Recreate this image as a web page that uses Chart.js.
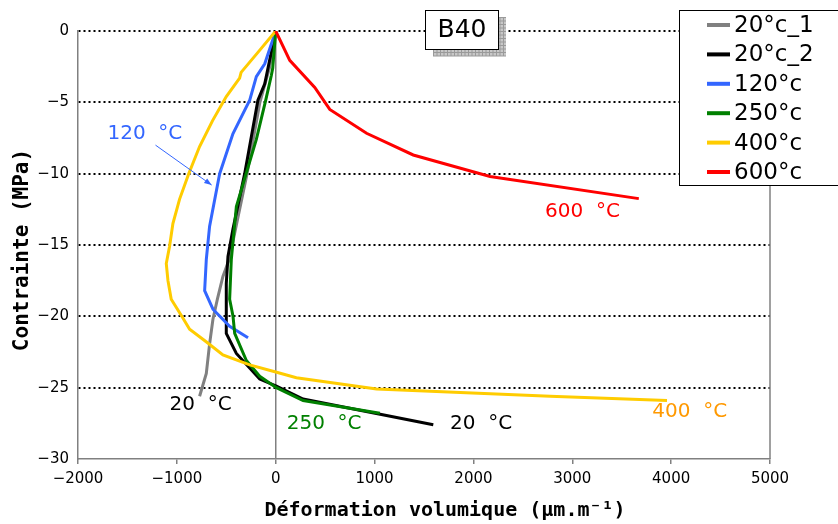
<!DOCTYPE html>
<html>
<head>
<meta charset="utf-8">
<script src="https://cdn.jsdelivr.net/npm/chart.js@4.4.1/dist/chart.umd.min.js"></script>
<style>
    html, body { margin: 0; padding: 0; background: #fff; }
    #wrap { width: 838px; height: 524px; }
</style>
</head>
<body>
<div id="wrap"><canvas id="b40Chart" width="838" height="524"></canvas></div>
<script>
// Series: [deformation (µm/m), stress (MPa)]
const curve20_1 = [[0, 0], [-60, -2.5], [-160, -5], [-290, -10], [-410, -14], [-470, -16], [-534, -17.2], [-590, -18.8], [-635, -20.2], [-670, -22], [-702, -24], [-770, -25.6]];
const curve20_2 = [[0, 0], [-111, -3.7], [-180, -4.85], [-314, -10], [-433, -13.9], [-483, -15.8], [-500, -17.7], [-500, -20], [-500, -21.2], [-398, -22.6], [-162, -24.4], [7, -24.9], [277, -25.8], [1594, -27.6]];
const curve120 = [[0, 0], [-111, -2.3], [-196, -3.2], [-263, -4.85], [-433, -7.2], [-567, -10], [-669, -13.7], [-702, -16], [-719, -18.2], [-635, -19.5], [-466, -20.7], [-280, -21.5]];
const curve250 = [[0, 0], [-30, -2.6], [-44, -3.1], [-101, -4.85], [-196, -7.6], [-398, -12.3], [-449, -16], [-466, -18.8], [-432, -20], [-415, -21.2], [-297, -23.1], [-162, -24.2], [7, -25.0], [277, -25.9], [1054, -26.8]];
const curve400 = [[0, 0], [-180, -1.5], [-350, -2.9], [-365, -3.3], [-500, -4.6], [-640, -6.3], [-770, -8.1], [-880, -10], [-973, -11.8], [-1040, -13.5], [-1074, -15.1], [-1107, -16.3], [-1090, -17.5], [-1057, -18.8], [-950, -20.0], [-871, -20.9], [-700, -21.8], [-534, -22.7], [-263, -23.4], [0, -23.9], [209, -24.3], [1020, -25.1], [2776, -25.6], [3958, -25.9]];
const curve600 = [[0, 0], [142, -2.06], [395, -3.96], [547, -5.5], [919, -7.17], [1391, -8.69], [2168, -10.2], [3673, -11.75]];

const seriesNames = ['20°c_1', '20°c_2', '120°c', '250°c', '400°c', '600°c'];
const seriesCurves = [curve20_1, curve20_2, curve120, curve250, curve400, curve600];
const seriesColors = ['#808080', '#000000', '#3366FF', '#008000', '#FFCC00', '#FF0000'];

const xTicks = [-2000, -1000, 0, 1000, 2000, 3000, 4000, 5000];
const yTicks = [0, -5, -10, -15, -20, -25, -30];

const xTitle = 'Déformation volumique (µm.m⁻¹)';
const yTitle = 'Contrainte (MPa)';

// curve labels, placed in data units (left edge, vertical middle)
const noteTexts = ['120  °C', '600  °C', '20  °C', '250  °C', '20  °C', '400  °C'];
const noteX = [-1702, 2725, -1074, 111, 1763, 3810];
const noteY = [-7.2, -12.7, -26.2, -27.5, -27.5, -26.7];
const noteColors = ['#3366FF', '#FF0000', '#000000', '#008000', '#000000', '#FF9900'];
const arrowFrom = [-1216, -8.0];
const arrowTo = [-648, -10.8];

const fmt = v => String(v).replace('-', '\u2212');

const extras = {
    id: 'extras',
    afterDatasetsDraw(chart) {
        const ctx = chart.ctx;
        const xs = chart.scales.x, ys = chart.scales.y;
        const area = chart.chartArea;
        ctx.save();

        // right frame line
        ctx.strokeStyle = '#808080';
        ctx.lineWidth = 1.5;
        ctx.beginPath();
        ctx.moveTo(area.right, area.top);
        ctx.lineTo(area.right, area.bottom);
        ctx.stroke();

        // axis titles
        ctx.fillStyle = '#000';
        ctx.font = 'bold 20px "DejaVu Sans Mono"';
        ctx.textAlign = 'center';
        ctx.textBaseline = 'middle';
        ctx.fillText(xTitle, 445, 511);
        ctx.save();
        ctx.translate(23, 250);
        ctx.rotate(-Math.PI / 2);
        ctx.font = 'bold 21px "DejaVu Sans Mono"';
        ctx.fillText(yTitle, 0, 0);
        ctx.restore();

        // curve labels
        ctx.font = '20px "DejaVu Sans"';
        ctx.textAlign = 'left';
        noteTexts.forEach((t, i) => {
            ctx.fillStyle = noteColors[i];
            ctx.fillText(t, xs.getPixelForValue(noteX[i]), ys.getPixelForValue(noteY[i]));
        });

        // arrow to the 120 °C curve
        const ax1 = xs.getPixelForValue(arrowFrom[0]), ay1 = ys.getPixelForValue(arrowFrom[1]);
        const ax2 = xs.getPixelForValue(arrowTo[0]), ay2 = ys.getPixelForValue(arrowTo[1]);
        const ang = Math.atan2(ay2 - ay1, ax2 - ax1);
        ctx.strokeStyle = '#3366FF';
        ctx.fillStyle = '#3366FF';
        ctx.lineWidth = 1;
        ctx.beginPath();
        ctx.moveTo(ax1, ay1);
        ctx.lineTo(ax2, ay2);
        ctx.stroke();
        ctx.beginPath();
        ctx.moveTo(ax2, ay2);
        ctx.lineTo(ax2 - 8 * Math.cos(ang - 0.35), ay2 - 8 * Math.sin(ang - 0.35));
        ctx.lineTo(ax2 - 8 * Math.cos(ang + 0.35), ay2 - 8 * Math.sin(ang + 0.35));
        ctx.closePath();
        ctx.fill();

        // B40 box with hatched shadow
        const bx = 425, by = 10, bw = 73, bh = 39;
        ctx.fillStyle = '#c8c8c8';
        ctx.fillRect(bx + 8, by + 7, bw, bh);
        ctx.strokeStyle = '#9a9a9a';
        ctx.lineWidth = 1;
        ctx.beginPath();
        for (let gx = bx + 8; gx <= bx + 8 + bw; gx += 3.5) {
            ctx.moveTo(gx + 0.5, by + 7);
            ctx.lineTo(gx + 0.5, by + 7 + bh);
        }
        for (let gy = by + 7; gy <= by + 7 + bh; gy += 3.5) {
            ctx.moveTo(bx + 8, gy + 0.5);
            ctx.lineTo(bx + 8 + bw, gy + 0.5);
        }
        ctx.stroke();
        ctx.fillStyle = '#fff';
        ctx.fillRect(bx, by, bw, bh);
        ctx.strokeStyle = '#000';
        ctx.strokeRect(bx + 0.5, by + 0.5, bw, bh);
        ctx.fillStyle = '#000';
        ctx.font = '25px "DejaVu Sans"';
        ctx.textAlign = 'center';
        ctx.fillText('B40', bx + bw / 2 + 0.5, by + bh / 2 + 1);

        // legend
        const lx = 679, ly = 10, lh = 175;
        ctx.fillStyle = '#fff';
        ctx.fillRect(lx, ly, 838 - lx + 5, lh);
        ctx.strokeStyle = '#000';
        ctx.strokeRect(lx + 0.5, ly + 0.5, 838 - lx + 5, lh);
        ctx.font = '23px "DejaVu Sans"';
        ctx.textAlign = 'left';
        seriesNames.forEach((name, i) => {
            const ry = ly + 15 + i * 29.4;
            ctx.strokeStyle = seriesColors[i];
            ctx.lineWidth = 4;
            ctx.beginPath();
            ctx.moveTo(707, ry);
            ctx.lineTo(730, ry);
            ctx.stroke();
            ctx.fillStyle = '#000';
            ctx.fillText(name, 734, ry + 1);
        });
        ctx.restore();
    }
};

Chart.defaults.font.family = '"DejaVu Sans"';
Chart.defaults.color = '#000';

new Chart(document.getElementById('b40Chart'), {
    type: 'scatter',
    data: {
        datasets: seriesCurves.map((c, i) => ({
            label: seriesNames[i],
            data: c.map(p => ({ x: p[0], y: p[1] })),
            showLine: true,
            borderColor: seriesColors[i],
            backgroundColor: seriesColors[i],
            borderWidth: 3,
            pointRadius: 0,
            tension: 0,
            order: 10 - i
        }))
    },
    options: {
        responsive: false,
        animation: false,
        layout: { padding: { top: 31, right: 68, bottom: 0, left: 0 } },
        plugins: { legend: { display: false }, tooltip: { enabled: false } },
        scales: {
            x: {
                type: 'linear',
                min: -2000,
                max: 5000,
                afterBuildTicks: s => { s.ticks = xTicks.map(v => ({ value: v })); },
                afterFit: s => { s.height = 65; },
                ticks: { callback: v => fmt(v), font: { size: 15 }, padding: 6, maxRotation: 0 },
                grid: {
                    color: c => (c.tick && c.tick.value === 0) ? '#808080' : 'rgba(0,0,0,0)',
                    tickColor: '#808080',
                    tickLength: 5,
                    lineWidth: 1.5
                },
                border: { color: '#808080', width: 1.5 }
            },
            y: {
                type: 'linear',
                min: -30,
                max: 0,
                afterBuildTicks: s => { s.ticks = yTicks.map(v => ({ value: v })); },
                afterFit: s => { s.width = 78; },
                ticks: { callback: v => fmt(v), font: { size: 15 }, padding: 9 },
                grid: {
                    color: c => (c.tick && c.tick.value > -30) ? '#000' : 'rgba(0,0,0,0)',
                    lineWidth: 2,
                    drawTicks: false
                },
                border: { color: '#808080', width: 1.5, dash: [2, 3] }
            }
        }
    },
    plugins: [extras]
});
</script>
</body>
</html>
